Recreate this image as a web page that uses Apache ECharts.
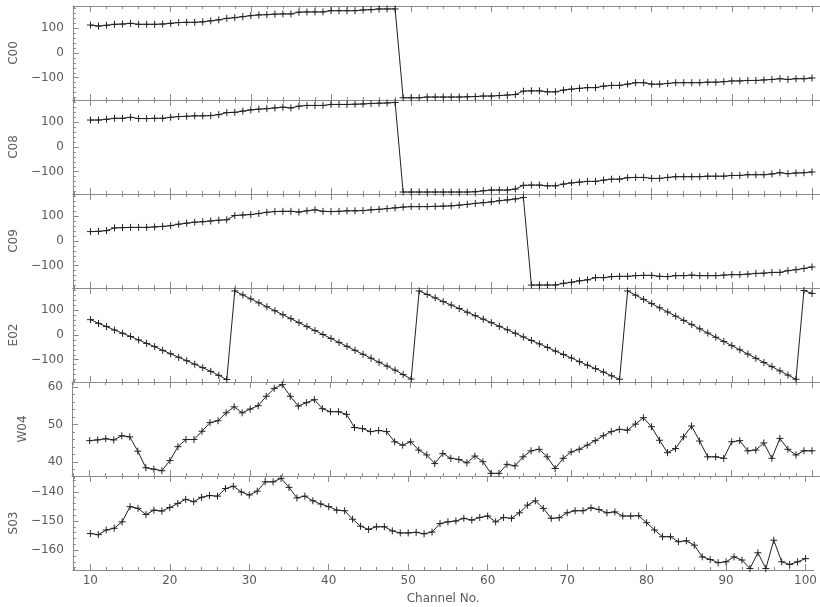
<!DOCTYPE html>
<html>
<head>
<meta charset="utf-8">
<script src="https://cdn.jsdelivr.net/npm/echarts@6/dist/echarts.min.js"></script>
<style>
  html, body { margin: 0; padding: 0; background: #fff; }
  #chart { width: 820px; height: 607px; }
</style>
</head>
<body>
<div id="chart"></div>
<script>
// Channel numbers along the shared x axis
const channels = [10,11,12,13,14,15,16,17,18,19,20,21,22,23,24,25,26,27,28,29,
  30,31,32,33,34,35,36,37,38,39,40,41,42,43,44,45,46,47,48,49,
  50,51,52,53,54,55,56,57,58,59,60,61,62,63,64,65,66,67,68,69,
  70,71,72,73,74,75,76,77,78,79,80,81,82,83,84,85,86,87,88,89,
  90,91,92,93,94,95,96,97,98,99,100];

// Phase (degrees) per channel
const c00 = [113,109,112,116,117,120,116,116,116,117,
  120,123,124,124,126,130,134,140,143,147,
  151,154,155,157,158,158,165,166,166,166,
  171,171,171,171,174,175,178,178,178,-181,
  -181,-181,-178,-178,-178,-178,-178,-177,-176,-174,
  -174,-172,-170,-168,-154,-153,-153,-157,-157,-150,
  -146,-143,-140,-140,-134,-131,-131,-126,-120,-120,
  -126,-126,-123,-120,-120,-120,-120,-118,-118,-116,
  -113,-113,-111,-111,-109,-107,-104,-107,-104,-104,
  -101];

const c08 = [109,109,112,116,116,120,115,115,116,116,
  120,123,124,126,126,127,131,139,140,145,
  150,153,155,158,161,158,165,168,168,168,
  172,172,172,173,174,176,177,178,180,-182,
  -182,-182,-182,-182,-182,-182,-182,-182,-181,-177,
  -174,-174,-174,-170,-155,-154,-154,-157,-157,-150,
  -145,-142,-139,-139,-134,-130,-130,-124,-123,-123,
  -127,-127,-123,-120,-120,-120,-120,-118,-118,-118,
  -115,-115,-112,-112,-112,-109,-104,-108,-105,-104,
  -101];

const c09 = [38,39,42,53,54,55,55,55,57,59,
  62,68,72,76,78,81,84,86,103,105,
  107,111,116,119,120,120,117,122,126,120,
  119,120,122,122,123,126,128,131,134,137,
  139,139,139,140,141,142,145,148,152,155,
  158,163,166,170,176,-178,-178,-178,-178,-171,
  -167,-161,-157,-148,-148,-144,-143,-143,-140,-139,
  -139,-143,-144,-140,-140,-138,-140,-140,-140,-138,
  -136,-136,-134,-131,-130,-127,-127,-120,-116,-111,
  -105];

const e02 = [62,47,34,20,7,-6,-20,-34,-47,-62,
  -76,-90,-104,-118,-132,-147,-163,-180,178,162,
  146,130,114,98,82,66,50,34,18,2,
  -14,-30,-46,-62,-78,-94,-110,-126,-142,-160,
  -178,178,164,150,135,121,107,92,78,64,
  50,35,21,7,-8,-22,-36,-50,-65,-79,
  -93,-108,-122,-136,-150,-165,-179,178,161,144,
  127,110,93,76,59,42,25,8,-9,-26,
  -43,-60,-77,-94,-111,-128,-145,-162,-179,180,
  168];

const w04 = [45.7,45.9,46.2,45.9,47.0,46.7,42.9,38.5,38.1,37.7,
  40.4,44.1,46.0,46.0,48.2,50.5,51.0,53.1,54.7,53.1,
  54.1,55.0,57.5,59.6,60.6,57.5,54.9,55.8,56.6,54.2,
  53.4,53.4,52.7,49.2,48.9,48.1,48.4,48.1,45.4,44.5,
  45.4,43.2,41.9,39.6,42.3,41.0,40.7,39.8,41.6,40.1,
  37.0,37.0,39.4,39.0,41.4,43.0,43.4,41.4,38.3,41.0,
  42.7,43.4,44.5,45.7,47.0,48.1,48.7,48.5,50.1,51.8,
  49.4,45.8,42.5,43.6,46.7,49.6,45.6,41.4,41.4,41.0,
  45.4,45.7,43.0,43.2,45.1,41.0,46.3,43.4,41.9,43.0,
  43.0];

const s03 = [-154.3,-154.7,-153.1,-152.5,-150.3,-145.1,-145.7,-147.8,-146.3,-146.6,
  -145.4,-144.0,-142.6,-143.4,-141.9,-141.3,-141.5,-138.9,-138.1,-140.1,
  -141.1,-139.8,-136.6,-136.6,-135.4,-138.5,-142.1,-141.5,-143.1,-144.2,
  -145.1,-146.3,-146.5,-149.4,-151.8,-152.9,-152.0,-152.0,-153.4,-154.1,
  -154.1,-153.9,-154.4,-153.8,-150.9,-150.3,-150.0,-149.1,-149.7,-148.8,
  -148.3,-150.3,-148.8,-149.1,-147.2,-144.6,-143.1,-145.7,-149.1,-148.9,
  -147.2,-146.5,-146.5,-145.5,-146.1,-147.2,-146.9,-148.3,-148.3,-148.2,
  -150.6,-153.1,-155.4,-155.4,-157.1,-156.8,-158.3,-162.3,-163.2,-164.3,
  -164.0,-162.3,-163.4,-166.3,-160.9,-166.3,-156.6,-164.0,-164.9,-164.0,
  -162.9];

// Panel labels, ranges and tick values
const panelNames = ['C00', 'C08', 'C09', 'E02', 'W04', 'S03'];
const panelData = [c00, c08, c09, e02, w04, s03];
const yRanges = [[-190, 190], [-190, 190], [-190, 190], [-190, 190], [36.3, 61.3], [-166.8, -134.6]];
const phaseMajor = [-100, 0, 100];
const phaseMinor = [-180, -160, -140, -120, -80, -60, -40, -20, 20, 40, 60, 80, 120, 140, 160, 180];
const yMajor = [phaseMajor, phaseMajor, phaseMajor, phaseMajor, [40, 50, 60], [-160, -150, -140]];
const yMinor = [phaseMinor, phaseMinor, phaseMinor, phaseMinor,
  [38, 42, 44, 46, 48, 52, 54, 56, 58],
  [-166, -164, -162, -158, -156, -154, -152, -148, -146, -144, -142, -138, -136]];
const xMajor = [10, 20, 30, 40, 50, 60, 70, 80, 90, 100];
const xMinor = [8, 12, 14, 16, 18, 22, 24, 26, 28, 32, 34, 36, 38, 42, 44, 46, 48,
  52, 54, 56, 58, 62, 64, 66, 68, 72, 74, 76, 78, 82, 84, 86, 88, 92, 94, 96, 98];
const xLabel = 'Channel No.';

const X_MIN = 7.8, X_MAX = 101;
const PANEL_TOP = 6, PANEL_H = 94;
const AXIS_COLOR = '#8a8a8a';
const TEXT_COLOR = '#5a5a5a';
const INK = '#222';
const FONT = 'DejaVu Sans';

const fmt = v => String(v).replace('-', '\u2212');

const grids = [], xAxes = [], yAxes = [], series = [];

panelNames.forEach((name, i) => {
  const last = i === panelNames.length - 1;
  grids.push({ left: 72, right: 0, top: PANEL_TOP + i * PANEL_H, height: PANEL_H });

  const xBase = (position, values, len, withLine, labelled) => ({
    type: 'value', gridIndex: i, position, min: X_MIN, max: X_MAX,
    axisLine: { show: withLine, onZero: false, lineStyle: { color: AXIS_COLOR, width: 1 } },
    axisTick: { show: true, inside: true, length: len, customValues: values,
      lineStyle: { color: AXIS_COLOR, width: 1 } },
    axisLabel: labelled ? {
      show: true, customValues: xMajor, margin: 5, color: TEXT_COLOR,
      fontFamily: FONT, fontSize: 12, formatter: fmt
    } : { show: false },
    splitLine: { show: false },
    name: labelled ? xLabel : '',
    nameLocation: 'middle', nameGap: 23,
    nameTextStyle: { color: TEXT_COLOR, fontFamily: FONT, fontSize: 12 }
  });
  xAxes.push(xBase('bottom', xMajor, 6, true, last));
  xAxes.push(xBase('bottom', xMinor, 3, false, false));
  xAxes.push(xBase('top', xMajor, 6, true, false));
  xAxes.push(xBase('top', xMinor, 3, false, false));

  yAxes.push({
    type: 'value', gridIndex: i, position: 'left',
    min: yRanges[i][0], max: yRanges[i][1],
    axisLine: { show: true, onZero: false, lineStyle: { color: AXIS_COLOR, width: 1 } },
    axisTick: { show: true, inside: true, length: 6, customValues: yMajor[i],
      lineStyle: { color: AXIS_COLOR, width: 1 } },
    axisLabel: { show: true, customValues: yMajor[i], margin: 9, color: TEXT_COLOR,
      fontFamily: FONT, fontSize: 12, formatter: fmt },
    splitLine: { show: false },
    name: name, nameLocation: 'middle', nameGap: 43,
    nameTextStyle: { color: TEXT_COLOR, fontFamily: FONT, fontSize: 12 }
  });
  yAxes.push({
    type: 'value', gridIndex: i, position: 'left',
    min: yRanges[i][0], max: yRanges[i][1],
    axisLine: { show: false, onZero: false },
    axisTick: { show: true, inside: true, length: 3, customValues: yMinor[i],
      lineStyle: { color: AXIS_COLOR, width: 1 } },
    axisLabel: { show: false },
    splitLine: { show: false }
  });

  series.push({
    type: 'line', name: name,
    xAxisIndex: i * 4, yAxisIndex: i * 2,
    data: channels.map((c, k) => [c, panelData[i][k]]),
    symbol: 'path://M0,5L10,5M5,0L5,10', symbolSize: 7,
    showSymbol: true,
    lineStyle: { color: INK, width: 1 },
    itemStyle: { color: INK, borderColor: INK, borderWidth: 1 },
    emphasis: { disabled: true },
    animation: false
  });
});

const chart = echarts.init(document.getElementById('chart'), null, { renderer: 'canvas' });
chart.setOption({
  backgroundColor: '#fff',
  animation: false,
  grid: grids,
  xAxis: xAxes,
  yAxis: yAxes,
  series: series
});
</script>
</body>
</html>
